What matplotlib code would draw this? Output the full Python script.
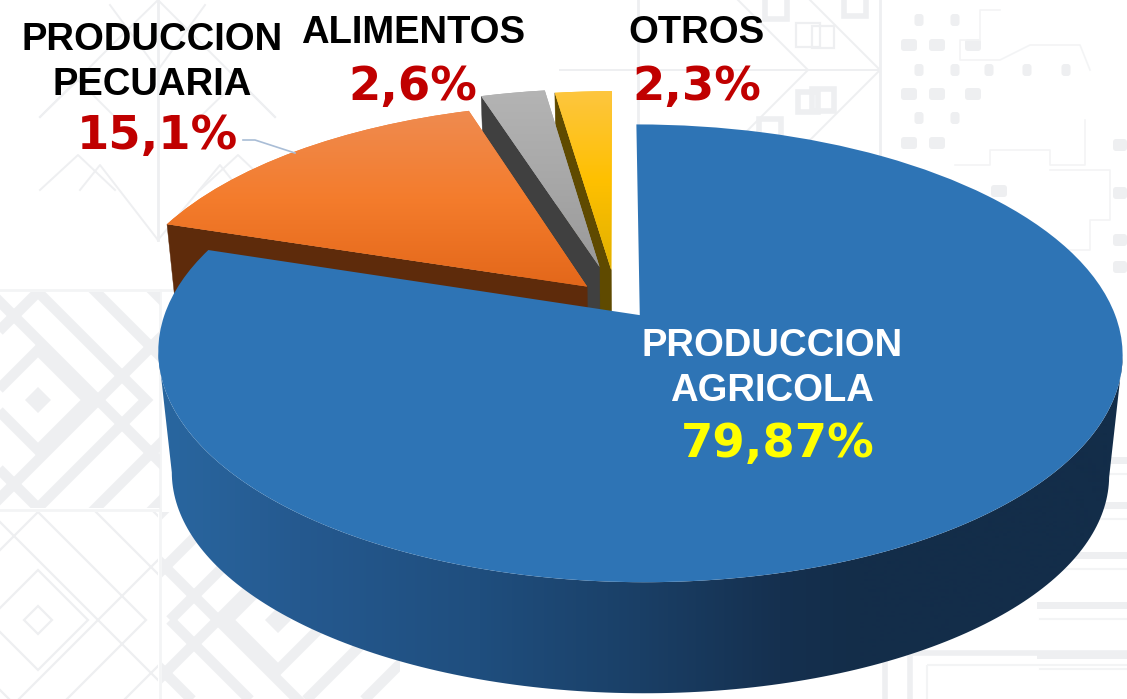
import numpy as np
import matplotlib
matplotlib.use("Agg")
import matplotlib.pyplot as plt
from matplotlib.transforms import Transform, Affine2D
from matplotlib.colors import LinearSegmentedColormap, to_rgb
from matplotlib.patches import Polygon, Rectangle, FancyBboxPatch

# ---- data ----
categories = ["PRODUCCION\nAGRICOLA", "PRODUCCION\nPECUARIA", "ALIMENTOS", "OTROS"]
values = [79.87, 15.1, 2.6, 2.3]
value_labels = ["79,87%", "15,1%", "2,6%", "2,3%"]

# ---- style ----
explode = [0.085, 0.088, 0.16, 0.141]
top_colors = ["#2e74b5", "#f2792b", "#a5a5a5", "#ffc000"]
side_colors = [None, "#5e2b0b", "#404040", "#5f4a00"]
gradients = [None,
             ["#ef8b50", "#f47c2c", "#e3671a"],
             ["#b4b4b4", "#a8a8a8", "#999999"],
             ["#fdc640", "#ffc000", "#e0b000"]]
BG = "#eeeff1"
BG_THIN = "#f3f4f5"
W, H = 1127, 699


class Perspective(Transform):
    """Ground plane of the pie seen in perspective, to pixel coordinates."""
    input_dims = output_dims = 2
    k, A, B, X0, Y0 = 0.165, 217.5, 470.0, 616.0, 300.0

    def transform_non_affine(self, v):
        v = np.asarray(v, float)
        w = 1 + self.k * v[:, 1]
        return np.c_[self.X0 + self.B * v[:, 0] / w, self.Y0 - self.A * v[:, 1] / w]


fig = plt.figure(figsize=(W / 100, H / 100), dpi=100, facecolor="white")
ax = fig.add_axes([0, 0, 1, 1])

wedges, _ = ax.pie(values, explode=explode, colors=top_colors, startangle=90,
                   counterclock=False, radius=1, frame=True,
                   wedgeprops=dict(linewidth=0, antialiased=True))
ax.set_aspect("auto")
ax.set_xlim(0, W)
ax.set_ylim(H, 0)
ax.axis("off")

top_tf = Perspective()
bottom_tf = Affine2D().translate(-641, 0).scale(0.972, 0.958).translate(641, 135.5)


def to_top(p):
    return top_tf.transform(np.asarray(p, float))


def to_bottom(p):
    return bottom_tf.transform(to_top(p))


def arc_pts(w, a, b, n):
    t = np.radians(np.linspace(a, b, n))
    return np.c_[w.center[0] + w.r * np.cos(t), w.center[1] + w.r * np.sin(t)]


# ---- faint background pattern ----
def clip_rect(x, y, w, h):
    return Rectangle((x, y), w, h, transform=ax.transData)


def diamonds(cx, cy, halves, lw, clip, color=BG, fill=True):
    if fill:
        p = ax.add_patch(Polygon([(cx - 13, cy), (cx, cy - 13), (cx + 13, cy), (cx, cy + 13)],
                                 fc=color, ec="none", zorder=0.5))
        p.set_clip_path(clip)
    for h in halves:
        p = ax.add_patch(Polygon([(cx - h, cy), (cx, cy - h), (cx + h, cy), (cx, cy + h)],
                                 closed=True, fc="none", ec=color, lw=lw, zorder=0.5))
        p.set_clip_path(clip)


def crossing(cx, cy, off, lw, clip, color=BG):
    for s in (1, -1):
        xs = np.array([cx + off - 300, cx + off + 300])
        line, = ax.plot(xs, cy + s * (xs - cx - off), color=color, lw=lw, zorder=0.5)
        line.set_clip_path(clip)


halves = [50, 108, 166, 224]
tile1 = clip_rect(0, 292, 160, 216)
tile2 = clip_rect(0, 512, 158, 187)
tile3 = clip_rect(162, 512, 238, 187)
diamonds(38, 400, halves, 7.5, tile1)
crossing(38, 400, 60, 7.5, tile1)
diamonds(38, 620, halves, 1.6, tile2, fill=False)
diamonds(38, 620, [14], 1.6, tile2, fill=False)
crossing(38, 620, 60, 1.6, tile2)
diamonds(278, 620, halves, 7.5, tile3)
crossing(278, 620, -60, 7.5, tile3)
ax.plot([0, 400], [290, 290], color=BG_THIN, lw=2, zorder=0.4)
ax.plot([0, 160], [510, 510], color=BG_THIN, lw=2, zorder=0.4)
ax.plot([160, 160], [290, 699], color=BG_THIN, lw=2, zorder=0.4)

thin = dict(color=BG, lw=1.4, zorder=0.4)
# tree motif, upper left
ax.plot([158, 158], [0, 240], color=BG, lw=2, zorder=0.4)
for xs, ys in [([40, 78, 115], [117, 80, 117]), ([200, 238, 275], [117, 80, 117]),
               ([40, 78, 115], [190, 155, 190]), ([200, 238, 275], [190, 155, 190]),
               ([158, 100, 80], [240, 165, 190]), ([158, 220, 240], [240, 165, 190]),
               ([40, 115, 158, 200, 275], [117, 42, 0, 42, 117]),
               ([110, 158, 205], [5, 70, 5])]:
    ax.plot(xs, ys, **thin)
# chevrons, upper middle
ax.plot([638, 638], [0, 125], color=BG, lw=2, zorder=0.4)
ax.plot([880, 880], [0, 170], color=BG, lw=2, zorder=0.4)
ax.plot([560, 880], [70, 70], **thin)
for ax_, ln in [(808, 130), (880, 150)]:
    ax.plot([ax_ - ln, ax_, ax_ - ln], [70 - ln, 70, 70 + ln], **thin)
for x, y, s, lw in [(776, 8, 22, 4), (808, 35, 24, 1.6), (808, 102, 20, 4), (770, 130, 22, 4),
                    (855, 5, 22, 4), (823, 37, 22, 1.6), (823, 100, 22, 4)]:
    ax.add_patch(Rectangle((x - s / 2, y - s / 2), s, s, fc="none", ec=BG, lw=lw, zorder=0.4))
# dots, upper right
for y, xs, w_, h_ in [(20, [919, 955], 9, 12), (45, [909, 937, 973], 16, 12),
                      (70, [919, 955, 989, 1027, 1066], 9, 12), (94, [909, 937, 973], 16, 12),
                      (118, [919, 955], 9, 12), (143, [909, 937], 16, 12),
                      (191, [999], 16, 12), (145, [1120], 14, 12), (193, [1120], 14, 12),
                      (240, [1120], 14, 12), (267, [1120], 14, 12)]:
    for x in xs:
        ax.add_patch(FancyBboxPatch((x - w_ / 2, y - h_ / 2), w_, h_,
                                    boxstyle="round,pad=0,rounding_size=3",
                                    fc=BG, ec="none", zorder=0.4))
for xs, ys in [([1000, 980, 980, 960, 960, 1000, 1030, 1080, 1090],
                [10, 10, 40, 40, 60, 60, 45, 45, 70]),
               ([955, 990, 990, 1050, 1050, 1085, 1085],
                [165, 165, 150, 150, 165, 165, 120]),
               ([1050, 1110, 1110, 1090, 1090, 1050],
                [170, 170, 220, 220, 250, 250])]:
    ax.plot(xs, ys, color=BG_THIN, lw=1.2, zorder=0.4)
# stripes and frames, lower right
for y in [460, 505, 555, 605, 655]:
    ax.plot([1040, W], [y, y], color=BG, lw=5, zorder=0.4)
    ax.plot([1040, W], [y + 14, y + 14], color=BG_THIN, lw=1.5, zorder=0.4)
ax.add_patch(Rectangle((910, 653), 260, 70, fc="none", ec=BG, lw=4, zorder=0.4))
ax.add_patch(Rectangle((927, 665), 260, 70, fc="none", ec=BG_THIN, lw=1.5, zorder=0.4))
ax.plot([885, 885], [660, H], color=BG, lw=4, zorder=0.4)

# ---- extruded sides and gradient tops, drawn from back to front ----
base_z = 2
for i in [3, 2, 1]:
    w = wedges[i]
    z = base_z + (3 - i) * 2
    edge = arc_pts(w, w.theta2, w.theta2, 1)[0]
    cut = np.vstack([w.center, edge])
    poly = np.vstack([to_top(cut), to_bottom(cut)[::-1]])
    ax.add_patch(Polygon(poly, fc=side_colors[i], ec=side_colors[i], lw=0.3, zorder=z))

    w.set_transform(top_tf + ax.transData)
    w.set_zorder(z + 0.5)
    outline = to_top(arc_pts(w, w.theta1, w.theta2, 60))
    tip = to_top([w.center])[0]
    y0, y1 = min(outline[:, 1].min(), tip[1]), max(outline[:, 1].max(), tip[1])
    x0, x1 = min(outline[:, 0].min(), tip[0]), max(outline[:, 0].max(), tip[0])
    cm = LinearSegmentedColormap.from_list("g", gradients[i])
    im = ax.imshow(np.linspace(0, 1, 256)[:, None], cmap=cm, aspect="auto",
                   extent=(x0 - 1, x1 + 1, y1 + 1, y0 - 1), zorder=z + 0.6)
    im.set_clip_path(w)

# blue wedge: shaded outer wall (silhouette to silhouette), then the flat top
blue = wedges[0]
blue.set_transform(top_tf + ax.transData)
blue.set_zorder(9.5)
stops_x = [170, 300, 480, 640, 780, 860, 1115]
stops_c = ["#29669f", "#25598f", "#1f4e7e", "#1a3f66", "#15304f", "#132d49", "#132d49"]
stops_rgb = np.array([to_rgb(c) for c in stops_c])
full = arc_pts(blue, blue.theta1, blue.theta2, 1500)
full_x = to_top(full)[:, 0]
i_left, i_right = int(np.argmin(full_x)), int(np.argmax(full_x))
front = full[i_left:i_right + 1][::5]
wall = np.vstack([to_top(front), to_bottom(front)[::-1]])
wall_patch = Polygon(wall, closed=True, fc="none", ec="none", transform=ax.transData)
ax.add_patch(wall_patch)
col_x = np.arange(140, 1130)
col_rgb = np.stack([np.interp(col_x, stops_x, stops_rgb[:, c]) for c in range(3)], axis=1)
wall_im = ax.imshow(col_rgb[None, :, :], aspect="auto",
                    extent=(col_x[0], col_x[-1], H + 1, 150), zorder=9)
wall_im.set_clip_path(wall_patch)

ax.set_xlim(0, W)
ax.set_ylim(H, 0)

# ---- leader line and labels ----
ax.plot([243, 255, 295], [140, 140, 153], color="#a9bdd6", lw=1.2, zorder=12)

LF = dict(family="Liberation Sans", fontweight="bold", fontsize=27.5, ha="center",
          va="baseline", zorder=20)
VF = dict(family="DejaVu Sans", fontweight="bold", fontsize=33.5, ha="center",
          va="baseline", zorder=20)

p1, p2 = categories[1].split("\n")
ax.text(152, 50, p1, color="black", **LF)
ax.text(152, 95, p2, color="black", **LF)
ax.text(157, 149, value_labels[1], color="#c00000", **VF)
ax.text(413, 43, categories[2], color="black", **LF)
ax.text(413, 100, value_labels[2], color="#c00000", **VF)
ax.text(697, 43, categories[3], color="black", **LF)
ax.text(697, 100, value_labels[3], color="#c00000", **VF)
a1, a2 = categories[0].split("\n")
ax.text(772, 356, a1, color="white", **LF)
ax.text(772, 401, a2, color="white", **LF)
ax.text(778, 457, value_labels[0], color="#ffff00", **VF)

fig.savefig("out.png", dpi=100)
